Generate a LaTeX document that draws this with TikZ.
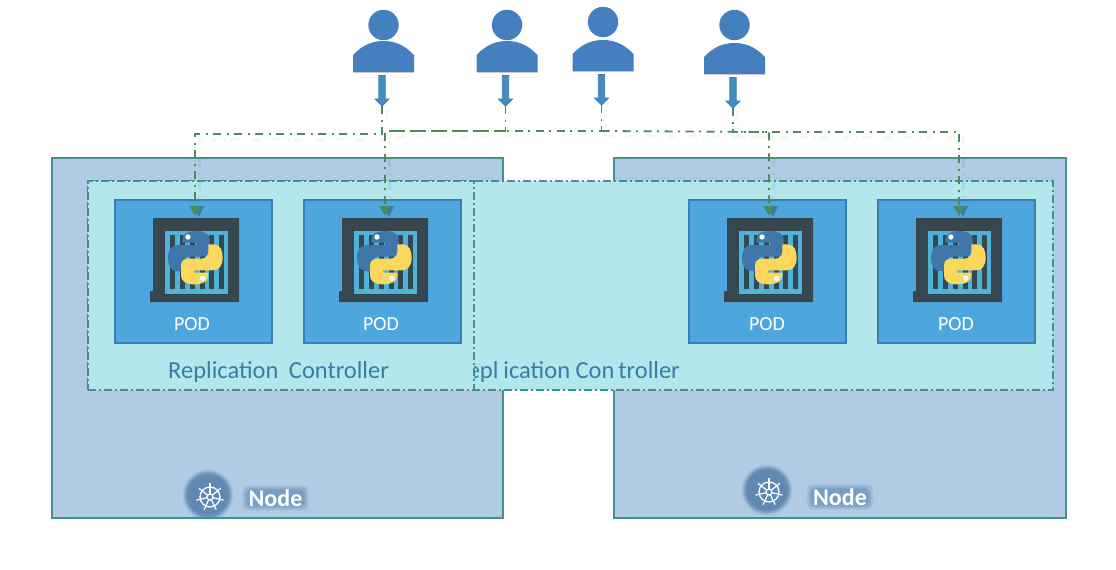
\documentclass[tikz,border=0pt]{standalone}
\usepackage{fontspec}
\setmainfont{Carlito}
\usetikzlibrary{arrows.meta,calc}
\definecolor{nodefill}{HTML}{B1CBE4}
\definecolor{nodeedge}{HTML}{44908F}
\definecolor{rcfill}{HTML}{B3E7EB}
\definecolor{podfill}{HTML}{4DA6DE}
\definecolor{podedge}{HTML}{3A7FAE}
\definecolor{frame}{HTML}{37474F}
\definecolor{win}{HTML}{4FB3D9}
\definecolor{pyblue}{HTML}{3F77AB}
\definecolor{pyyellow}{HTML}{FAD85E}
\definecolor{person}{HTML}{4480C0}
\definecolor{link}{HTML}{4F8A5B}
\definecolor{rctext}{HTML}{3A7CA8}
\definecolor{glow}{HTML}{5F88B3}
\tikzset{
  x=1pt,y=-1pt,
  nodebox/.style={draw=nodeedge,fill=nodefill,line width=2pt,rectangle,outer sep=0pt,minimum width=451pt,minimum height=360pt,inner sep=0pt},
  rcbox/.style={draw=nodeedge,fill=rcfill,line width=2pt,dash pattern=on 8pt off 3pt on 2pt off 3pt,rectangle,outer sep=0pt,inner sep=0pt,minimum height=209pt},
  podbox/.style={draw=podedge,fill=podfill,line width=2pt,rectangle,outer sep=0pt,minimum width=157pt,minimum height=143pt,inner sep=0pt},
  podtext/.style={text=white,font=\fontsize{20}{22}\selectfont,inner sep=0pt},
  rctxt/.style={text=rctext,font=\fontsize{24.5}{26}\selectfont,inner sep=0pt},
  nodetxt/.style={text=white,font=\bfseries\fontsize{24}{26}\selectfont,inner sep=0pt},
  personpart/.style={fill=person,draw=none},
  linkline/.style={draw=link,line width=1.8pt,dash pattern=on 8pt off 5.5pt on 2pt off 5.5pt},
  linkshadow/.style={line width=3pt,dash pattern=on 8pt off 5.5pt on 2pt off 5.5pt},
  linktip/.style={-{Triangle[length=10pt,width=11pt,fill=link]}},
  uarrow/.style={draw=podedge,fill=podfill!85!black,line width=.8pt},
}
% user: #1 name, #2 x, #3 head y, #4 body top y
\newcommand{\userfig}[4]{%
  \fill[person] (#2,#3) circle[radius=15.2];
  \fill[personpart] (#2-30.5,#4+31) -- (#2-30.5,#4+14) .. controls (#2-20,#4+3) and (#2-10,#4) .. (#2,#4) .. controls (#2+10,#4) and (#2+20,#4+3) .. (#2+30.5,#4+14) -- (#2+30.5,#4+31) -- cycle;
  \fill[gray!45] (#2-30.5,#4+31) rectangle (#2+30.5,#4+32);
  \draw[uarrow] (#2-4.7,#4+34.5) -- (#2+1.7,#4+34.5) -- (#2+1.7,#4+58) -- (#2+5.5,#4+58) -- (#2-1.5,#4+65) -- (#2-8.5,#4+58) -- (#2-4.7,#4+58) -- cycle;
  \coordinate (#1) at (#2-1.5,#4+65);
}
% icon placed from pod top-left corner
\newcommand{\podicon}[1]{%
  \begin{scope}[shift={(#1.north west)}]
    \fill[frame] (38,18) -- (124,18) -- (124,102) -- (35,102) -- (35,91) -- (38,91) -- cycle;
    \fill[win] (50,31) rectangle (113,94);
    \foreach \b in {55,65,75,85,94,104}{\fill[frame] (\b,35) rectangle (\b+5,89);}
    \begin{scope}[shift={(-15,-10)},scale=1/3]
      \fill[pyblue] (247,150) .. controls (247,130) and (265,123) .. (290,123) .. controls (318,123) and (329,135) .. (329,150)
        -- (329,180) .. controls (329,193) and (320,200) .. (308,200) -- (270,200) .. controls (255,200) and (247,208) .. (247,222)
        -- (247,243) -- (230,243) .. controls (212,243) and (204,225) .. (204,203) .. controls (204,178) and (215,165) .. (235,165) -- (288,165) -- (288,158) -- (247,158) -- cycle;
      \fill[pyyellow] (572-247,406-150) .. controls (572-247,406-130) and (572-265,406-123) .. (572-290,406-123) .. controls (572-318,406-123) and (572-329,406-135) .. (572-329,406-150)
        -- (572-329,406-180) .. controls (572-329,406-193) and (572-320,406-200) .. (572-308,406-200) -- (572-270,406-200) .. controls (572-255,406-200) and (572-247,406-208) .. (572-247,406-222)
        -- (572-247,406-243) -- (572-230,406-243) .. controls (572-212,406-243) and (572-204,406-225) .. (572-204,406-203) .. controls (572-204,406-178) and (572-215,406-165) .. (572-235,406-165) -- (572-288,406-165) -- (572-288,406-158) -- (572-247,406-158) -- cycle;
      \fill[white] (264,141) circle[radius=8];
      \fill[white] (308,265) circle[radius=8];
    \end{scope}
  \end{scope}
}
% k8s wheel with glow at #1 coordinate
\newcommand{\wheel}[1]{%
  \begin{scope}[shift={(#1)}]
    \foreach \r/\o in {26/.08,25/.1,24/.14,23/.18,22/.25,20/.4}{
      \foreach \t in {0,72,144,216,288}{\fill[glow,opacity=\o] (\t:3) circle[radius=\r-3];}
    }
    \draw[white,line width=1.3pt] (2,2) circle[radius=10];
    \draw[white,line width=1.2pt] (2,2) circle[radius=3];
    \begin{scope}[shift={(2,2)}]
    \foreach \a in {13,64,115,167,218,270,321}{\draw[white,line width=1.2pt] (\a:3) -- (\a:14);}
    \end{scope}
  \end{scope}
}
\newcommand{\glowtext}[1]{%
  \foreach \e/\o in {6/.2,4/.3,2/.4}{\fill[glow,opacity=\o,rounded corners=6pt] ($(#1.north west)+(-\e,-\e+2)$) rectangle ($(#1.south east)+(\e,\e-2)$);}
}
\begin{document}
\begin{tikzpicture}
\useasboundingbox (0,0) rectangle (1116,570);
\fill[white] (0,0) rectangle (1116,570);
% hosts
\node[nodebox,anchor=north west] (nodeL) at (52,158) {};
\node[nodebox,anchor=north west,minimum width=452pt] (nodeR) at (614,158) {};
% replication controllers
\node[rcbox,anchor=north west,minimum width=965pt] (rcB) at (88,181) {};
\node[rctxt,anchor=base east] (rcBt) at (680,378) {Repl\hspace{5pt}ication Con\hspace{4pt}troller};
\node[rcbox,anchor=north west,minimum width=386pt] (rcA) at (88,181) {};
\node[rctxt,anchor=base west] (rcAt) at (168,378) {Replication\hspace{5pt} Controller};
% pods
\node[podbox,anchor=north west] (p1) at (115,200) {};
\node[podbox,anchor=north west] (p2) at (304,200) {};
\node[podbox,anchor=north west] (p3) at (689,200) {};
\node[podbox,anchor=north west] (p4) at (878,200) {};
\foreach \p in {p1,p2,p3,p4}{\podicon{\p}}
\node[podtext] (t1) at (192,324) {POD};
\node[podtext] (t2) at (381,324) {POD};
\node[podtext] (t3) at (767,324) {POD};
\node[podtext] (t4) at (956,324) {POD};
% users
\userfig{u1}{383.5}{25}{41}
\userfig{u2}{507}{25}{41}
\userfig{u3}{603}{22}{40}
\userfig{u4}{734.5}{25}{43}
% link targets
\coordinate (e1) at (195,216);
\coordinate (e2) at (385,216);
\coordinate (e3) at (769,216);
\coordinate (e4) at (959,216);
\coordinate (b1) at (382,134);
\coordinate (b0) at (195,134);
\coordinate (b2) at (505.5,131);
\coordinate (b2a) at (385,131);
\coordinate (b3) at (601.5,131);
\coordinate (b4) at (733,132);
\coordinate (b4a) at (959,132);
\coordinate (b3a) at (769,132);
% shadows, solid tints laid on each background
\foreach \a/\b in {u1/b1,b1/b0,u2/b2,b2/b2a,u3/b3,b3/b3a,u4/b4,b4/b4a}{\draw[linkshadow,gray!6] ($(\a)+(4,5)$) -- ($(\b)+(4,5)$);}
\foreach \c in {e1,e2,e3,e4}{
  \draw[linkshadow,gray!6] ($(\c)+(4,-79)$) -- ($(\c)+(4,-59)$);
  \draw[linkshadow,nodefill!94!black] ($(\c)+(4,-57)$) -- ($(\c)+(4,-36)$);
  \draw[linkshadow,rcfill!94!black] ($(\c)+(4,-34)$) -- ($(\c)+(4,-17)$);
  \fill[black,opacity=.25] ($(\c)+(-2,-10)$) -- ($(\c)+(9,-10)$) -- ($(\c)+(4,1)$) -- cycle;
}
% links
\draw[linkline,linktip] (u1) -- (b1) -- (b0) -- (e1);
\draw[linkline,linktip] (u2) -- (b2) -- (b2a) -- (e2);
\draw[linkline] (u3) -- (b3) -- (b2a);
\draw[linkline,linktip] (b3) -- (b3a) -- (e3);
\draw[linkline,linktip] (u4) -- (b4) -- (b4a) -- (e4);
% node labels
\wheel{208,495}
\wheel{767,490}
\node[nodetxt] (n1m) at (275.5,498) {\phantom{Node}};
\node[nodetxt] (n2m) at (840,497) {\phantom{Node}};
\glowtext{n1m}
\glowtext{n2m}
\node[nodetxt] (n1) at (275.5,498) {Node};
\node[nodetxt] (n2) at (840,497) {Node};
\end{tikzpicture}
\end{document}
